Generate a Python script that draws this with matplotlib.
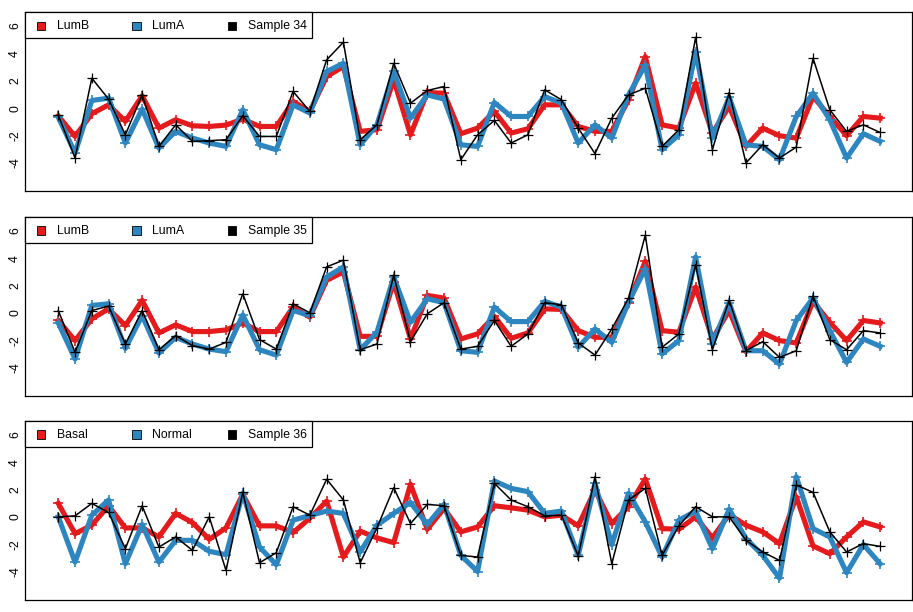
import numpy as np
import matplotlib
matplotlib.use("Agg")
import matplotlib.pyplot as plt
from matplotlib.patches import Rectangle

plt.rcParams['font.family'] = ['Liberation Sans', 'DejaVu Sans']
plt.rcParams['axes.unicode_minus'] = False

genes = np.arange(1, 51)

# panel 1: sample 34
p1_lumb = [-0.56, -2.07, -0.41, 0.24, -0.97, 0.9, -1.46, -0.85, -1.29, -1.34, -1.24, -0.8, -1.34, -1.34, 0.49, -0.24,
           2.31, 3.04, -1.7, -1.58, 2.07, -1.95, 1.14, 1.09, -1.87, -1.46, -0.24, -1.82, -1.51, 0.24, 0.24, -1.34, -1.7,
           -1.7, 0.61, 3.77, -1.22, -1.46, 1.82, -1.82, 0.12, -2.8, -1.46, -2.02, -2.19, 0.85, -0.61, -2.02, -0.61, -0.73]
p1_luma = [-0.66, -3.28, 0.56, 0.73, -2.55, -0.07, -2.92, -1.7, -2.19, -2.55, -2.8, -0.12, -2.68, -3.04, 0.24, -0.36,
           2.68, 3.28, -2.68, -1.22, 2.68, -0.73, 0.97, 0.66, -2.68, -2.8, 0.41, -0.61, -0.61, 0.85, 0.36, -2.55, -1.22,
           -2.19, 0.97, 3.16, -3.04, -1.95, 4.14, -2.19, 0.8, -2.68, -2.8, -3.77, -0.61, 1.09, -0.85, -3.65, -1.87, -2.43]
p1_sample = [-0.51, -3.65, 2.19, 0.66, -1.95, 0.97, -2.8, -1.22, -2.43, -2.38, -2.31, -0.56, -2.07, -2.07, 1.22, -0.24,
             3.53, 4.82, -2.31, -1.22, 3.28, 0.36, 1.29, 1.58, -3.77, -1.95, -0.9, -2.55, -1.95, 1.34, 0.61, -1.46, -3.33,
             -0.73, 0.97, 1.46, -2.8, -1.58, 5.18, -3.04, 1.14, -4.01, -2.68, -3.65, -2.85, 3.65, -0.12, -1.7, -1.22, -1.78]

# panel 2: sample 35
p2_lumb = [-0.56, -2.03, -0.44, 0.29, -0.93, 0.91, -1.47, -0.88, -1.37, -1.37, -1.25, -0.74, -1.37, -1.37, 0.42, -0.32,
           2.38, 2.99, -1.72, -1.72, 2.25, -1.91, 1.27, 1.08, -1.91, -1.54, -0.25, -1.86, -1.47, 0.29, 0.25, -1.3, -1.79,
           -1.79, 0.74, 3.77, -1.3, -1.42, 1.89, -1.91, 0.17, -2.84, -1.47, -2.03, -2.2, 0.83, -0.69, -2.03, -0.56, -0.74]
p2_luma = [-0.74, -3.38, 0.54, 0.66, -2.6, -0.2, -2.94, -1.79, -2.28, -2.65, -2.84, -0.15, -2.7, -3.09, 0.17, -0.2,
           2.62, 3.36, -2.7, -1.42, 2.62, -0.69, 1.03, 0.74, -2.77, -2.89, 0.42, -0.64, -0.64, 0.83, 0.42, -2.52, -1.18,
           -2.16, 0.78, 3.24, -3.01, -2.03, 4.09, -2.28, 0.74, -2.77, -2.77, -3.75, -0.56, 1.08, -1.3, -3.63, -1.91, -2.45]
p2_sample = [0.17, -2.89, 0.17, 0.49, -2.28, 0.17, -2.7, -1.67, -2.4, -2.65, -2.16, 1.4, -1.96, -2.65, 0.66, 0.0,
             3.36, 3.85, -2.7, -2.28, 2.75, -2.11, -0.07, 0.74, -2.65, -2.45, -0.56, -2.45, -1.54, 0.74, 0.59, -2.2, -3.09,
             -1.18, 1.08, 5.69, -2.52, -1.54, 3.53, -2.7, 0.91, -2.77, -2.11, -3.26, -2.77, 1.23, -1.96, -2.7, -1.3, -1.47]

# panel 3: sample 36
p3_basal = [0.98, -1.23, -0.61, 0.81, -0.81, -0.81, -1.47, 0.25, -0.42, -1.64, -0.81, 1.64, -0.66, -0.66, -1.15, -0.1,
            1.15, -2.94, -1.05, -1.54, -1.89, 2.38, -0.91, 0.61, -1.1, -0.74, 0.81, 0.66, 0.49, 0.0, 0.12, -0.66, 1.96,
            -0.49, 0.74, 2.77, -0.86, -0.91, 0.0, -1.54, 0.17, -0.61, -1.1, -1.96, 1.47, -2.13, -2.7, -1.47, -0.37, -0.74]
p3_normal = [0.0, -3.31, 0.12, 1.23, -3.43, -0.56, -3.31, -1.72, -1.72, -2.52, -2.77, 1.72, -2.21, -3.5, -0.25, 0.1,
             0.42, 0.25, -2.57, -0.61, 0.25, 1.05, -0.56, 0.91, -2.82, -4.0, 2.62, 2.08, 1.84, 0.25, 0.42, -2.82, 2.45,
             -2.03, 1.72, -0.37, -2.94, -0.25, 0.42, -2.33, 0.56, -1.59, -2.82, -4.49, 2.94, -0.86, -1.47, -4.09, -2.03, -3.43]
p3_sample = [0.0, 0.07, 0.98, 0.32, -2.33, 0.81, -2.21, -1.47, -2.45, 0.0, -3.92, 1.79, -3.36, -2.62, 0.74, 0.12,
             2.75, 1.23, -3.36, -0.81, 2.13, -0.49, 0.91, 0.81, -2.82, -2.94, 2.45, 1.23, 0.74, 0.07, 0.12, -2.87, 2.94,
             -3.43, 1.23, 2.08, -2.82, -0.66, 0.74, 0.0, 0.0, -1.72, -2.57, -3.19, 2.33, 1.79, -1.1, -2.57, -1.96, -2.16]

panels = [
    (["LumB", "LumA", "Sample 34"], [p1_lumb, p1_luma, p1_sample]),
    (["LumB", "LumA", "Sample 35"], [p2_lumb, p2_luma, p2_sample]),
    (["Basal", "Normal", "Sample 36"], [p3_basal, p3_normal, p3_sample]),
]
yticks = [-4, -2, 0, 2, 4, 6]

RED = '#E41A1C'
BLUE = '#2E86C1'
colors = [RED, BLUE, 'black']

fig = plt.figure(figsize=(9.13, 6.12), dpi=100)
W, H = 913.0, 612.0
tops = [12.0, 216.7, 420.7]  # pixel top of each panel
ph = 179.0
left, right = 25.4, 912.0

for top, (labels, series) in zip(tops, panels):
    ax = fig.add_axes([left / W, (H - top - ph) / H, (right - left) / W, ph / H])
    for k, (vals, col) in enumerate(zip(series, colors)):
        if k < 2:
            ax.plot(genes, vals, color=col, lw=3.7, marker='+', ms=6.5, mew=1.2, zorder=2 + k)
        else:
            ax.plot(genes, vals, color=col, lw=1.1, marker='+', ms=6.5, mew=0.9, zorder=5)
    ax.set_xlim(-0.96, 51.9)
    ax.set_ylim(-6.06, 7.03)
    ax.set_xticks([])
    ax.set_yticks(yticks)
    ax.set_yticklabels([str(t) for t in yticks], rotation=90, va='center', fontsize=8.8)
    ax.tick_params(axis='y', length=0, pad=3)
    for s in ax.spines.values():
        s.set_linewidth(0.9)

    # legend box like R's horizontal legend
    aw = right - left
    box_w = (312.0 - left) / aw
    box_h = 26.0 / ph
    ax.add_patch(Rectangle((0, 1 - box_h), box_w, box_h, transform=ax.transAxes,
                           facecolor='white', edgecolor='black', lw=0.9, zorder=10, clip_on=False))
    yc = 1 - 14.0 / ph
    sq = 8.5
    for j, (lab, col) in enumerate(zip(labels, colors)):
        xs = (41.2 - left + j * 95.5) / aw
        ax.add_patch(Rectangle((xs - sq / 2 / aw, yc - sq / 2 / ph), sq / aw, sq / ph, transform=ax.transAxes,
                               facecolor=col, edgecolor='black', lw=0.6, zorder=11))
        ax.text(xs + 15.5 / aw, yc, lab, transform=ax.transAxes, fontsize=8.8, va='center', ha='left', zorder=12)

fig.savefig("out.png", dpi=100)
